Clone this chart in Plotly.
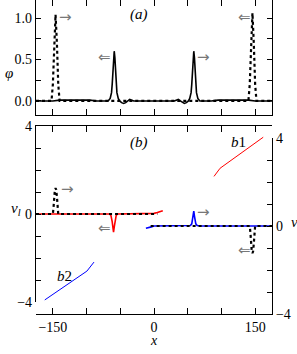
import plotly.graph_objects as go

# ---------------- data ----------------
# panel (a): phi(x) at final time (solid) and initial (dotted)
phi_x = [-175, -150, -140, -120, -100, -95, -85, -72, -68, -65, -63, -62, -61, -60, -59,
         -58, -57, -56, -55, -53, -51, -48, -45, -42, -39, -36, -33, -30, -15, 0,
         15, 30, 33, 36, 39, 42, 45, 48, 51, 53, 55, 56, 57, 58, 59, 60, 61, 62, 63,
         65, 68, 72, 85, 95, 100, 120, 140, 150, 175]
phi_y = [0.0, 0.0, 0.01, 0.01, 0.01, 0.01, 0.0, 0.0, 0.0, 0.03, 0.1, 0.2, 0.36, 0.52, 0.6,
         0.52, 0.36, 0.2, 0.1, 0.03, 0.0, -0.02, -0.03, -0.02, 0.0, 0.02, 0.01, 0.0, 0.0, 0.0,
         0.0, 0.0, 0.01, 0.02, 0.0, -0.02, -0.03, -0.02, 0.0, 0.03, 0.1, 0.2, 0.36, 0.52, 0.6,
         0.52, 0.36, 0.2, 0.1, 0.03, 0.0, 0.0, 0.0, 0.01, 0.01, 0.01, 0.01, 0.0, 0.0]

phi0_x = [-175, -155, -152, -150, -148, -146, -144, -142, -140, -120, -60, 0, 60, 120,
          140, 142, 144, 146, 148, 150, 152, 155, 175]
phi0_y = [0.0, 0.0, 0.0, 0.2, 0.7, 1.04, 0.7, 0.2, 0.0, 0.0, 0.0, 0.0, 0.0, 0.0,
          0.0, 0.2, 0.7, 1.06, 0.7, 0.2, 0.0, 0.0, 0.0]

# panel (b): v_l (red, left axis) and v_r (blue, right axis)
vl_x = [-175, -120, -80, -66, -64, -63, -62, -61, -60, -59, -58, -57, -56, -54, -50,
        -20, -6, 0, 5, 9, 13]
vl_y = [0.0, 0.0, 0.0, 0.0, -0.05, -0.15, -0.35, -0.6, -0.82, -0.6, -0.35, -0.15, -0.05, 0.0, 0.0,
        0.0, 0.0, 0.03, 0.07, 0.11, 0.15]

vl0_x = [-175, -150, -149, -148, -147, -146, -145, -144, -143, -142, -100, -50, 0, 5]
vl0_y = [0.0, 0.0, 0.3, 0.8, 1.1, 1.18, 1.1, 0.8, 0.3, 0.0, 0.0, 0.0, 0.0, 0.0]

vr_x = [-12, -8, -4, 0, 20, 50, 54, 56, 57, 58, 59, 60, 61, 62, 64, 68, 100, 140, 175]
vr_y = [-0.1, -0.08, -0.04, 0.0, 0.0, 0.0, 0.02, 0.1, 0.25, 0.45, 0.68, 0.45, 0.25, 0.1, 0.02,
        0.0, 0.0, 0.0, 0.0]

vr0_x = [-5, 50, 100, 142, 143, 144, 145, 146, 147, 148, 149, 150, 175]
vr0_y = [0.0, 0.0, 0.0, 0.0, -0.3, -0.8, -1.15, -1.23, -1.15, -0.8, -0.3, 0.0, 0.0]

b1_x = [89, 98, 162]
b1_y = [1.71, 2.08, 3.49]
b2_x = [-162, -99.5, -89]
b2_y = [-3.36, -2.05, -1.64]

x_ticks = [-150, -100, -50, 0, 50, 100, 150]
x_ticktext = ["\u2212150", "", "", "0", "", "", "150"]
phi_ticks = [0, 0.25, 0.5, 0.75, 1.0]
phi_ticktext = ["0.0", "", "0.5", "", "1.0"]
v_ticks = [-4, -3, -2, -1, 0, 1, 2, 3, 4]
v_ticktext = ["\u22124", "", "", "", "0", "", "", "", "4"]

# ---------------- figure ----------------
FONT = "Liberation Serif"
GRAY = "#777777"

fig = go.Figure()
fig.add_trace(go.Scatter(x=phi_x, y=phi_y, mode="lines", line=dict(color="black", width=1.6),
                         xaxis="x", yaxis="y"))
fig.add_trace(go.Scatter(x=phi0_x, y=phi0_y, mode="lines", line=dict(color="black", width=2.2, dash="dot"),
                         xaxis="x", yaxis="y"))

fig.add_trace(go.Scatter(x=vl_x, y=vl_y, mode="lines", line=dict(color="#ff0000", width=1.6),
                         xaxis="x2", yaxis="y2"))
fig.add_trace(go.Scatter(x=b1_x, y=b1_y, mode="lines", line=dict(color="#ff0000", width=1.0),
                         xaxis="x2", yaxis="y2"))
fig.add_trace(go.Scatter(x=vl0_x, y=vl0_y, mode="lines", line=dict(color="black", width=2.2, dash="dot"),
                         xaxis="x2", yaxis="y2"))

fig.add_trace(go.Scatter(x=vr_x, y=vr_y, mode="lines", line=dict(color="#0000ff", width=1.6),
                         xaxis="x3", yaxis="y3"))
fig.add_trace(go.Scatter(x=b2_x, y=b2_y, mode="lines", line=dict(color="#0000ff", width=1.0),
                         xaxis="x3", yaxis="y3"))
fig.add_trace(go.Scatter(x=vr0_x, y=vr0_y, mode="lines", line=dict(color="black", width=2.2, dash="dot"),
                         xaxis="x3", yaxis="y3"))
fig.add_trace(go.Scatter(x=[None], y=[None], xaxis="x4", yaxis="y", showlegend=False))

tickfont = dict(family=FONT, size=14, color="black")
xrange = [-175, 175]
common_x = dict(range=xrange, tickvals=x_ticks, showgrid=False, zeroline=False, automargin=False,
                ticks="inside", ticklen=6, tickcolor="black", tickwidth=1.2,
                linecolor="black", linewidth=1.3, tickfont=tickfont)
common_y = dict(showgrid=False, zeroline=False, automargin=False, ticks="inside", ticklen=5,
                tickcolor="black", tickwidth=1.2, linecolor="black", linewidth=1.3, tickfont=tickfont)

fig.update_layout(
    width=297, height=354,
    margin=dict(l=36, r=25, t=0, b=40, autoexpand=False),
    paper_bgcolor="white", plot_bgcolor="rgba(0,0,0,0)",
    showlegend=False,
    font=dict(family=FONT),
    xaxis=dict(**common_x, domain=[0, 1], anchor="y", showline=True, showticklabels=False),
    xaxis4=dict(**common_x, overlaying="x", side="top", anchor="y", showline=False,
                showticklabels=False),
    yaxis=dict(**common_y, domain=[0.6338, 1.0], range=[-0.169, 1.217], anchor="x",
               tickvals=phi_ticks, ticktext=phi_ticktext, showline=True, mirror="ticks"),
    xaxis2=dict(**common_x, domain=[0, 1], anchor="y2", side="top", showline=True,
                showticklabels=False),
    yaxis2=dict(**common_y, domain=[0.0382, 0.5987], range=[-4, 4], anchor="x2",
                tickvals=v_ticks, ticktext=v_ticktext, showline=True),
    xaxis3=dict(**common_x, domain=[0, 1], anchor="y3", side="bottom", showline=True,
                showticklabels=True, ticktext=x_ticktext),
    yaxis3=dict(**common_y, domain=[0.0, 0.5605], range=[-4, 4], anchor="x3", side="right",
                tickvals=v_ticks, ticktext=v_ticktext, showline=True),
)

ann_font = dict(family=FONT, size=15, color="black")
arrow_font = dict(family="DejaVu Sans", size=15, color=GRAY)
anns = [
    dict(text="<i>(a)</i>", x=-22, y=1.04, xref="x", yref="y", font=ann_font),
    dict(text="<i>(b)</i>", x=-22, y=3.26, xref="x2", yref="y2", font=ann_font),
    dict(text="<i>b</i>1", x=126, y=3.26, xref="x2", yref="y2", font=ann_font),
    dict(text="<i>b</i>2", x=-132, y=-2.27, xref="x3", yref="y3", font=ann_font),
    dict(text="\u2192", x=-131, y=1.01, xref="x", yref="y", font=arrow_font),
    dict(text="\u21d0", x=-74, y=0.53, xref="x", yref="y", font=arrow_font),
    dict(text="\u2192", x=73, y=0.53, xref="x", yref="y", font=arrow_font),
    dict(text="\u21d0", x=134, y=1.01, xref="x", yref="y", font=arrow_font),
    dict(text="\u2192", x=-129, y=1.12, xref="x2", yref="y2", font=arrow_font),
    dict(text="\u21d0", x=-73, y=-0.62, xref="x2", yref="y2", font=arrow_font),
    dict(text="\u2192", x=73, y=0.64, xref="x3", yref="y3", font=arrow_font),
    dict(text="\u21d0", x=134, y=-1.09, xref="x3", yref="y3", font=arrow_font),
    dict(text="<i>\u03c6</i>", x=-0.14, y=0.80, xref="paper", yref="paper", font=ann_font),
    dict(text="<i>v<sub>l</sub></i>", x=-0.115, y=0.30, xref="paper", yref="paper", font=ann_font),
    dict(text="<i>v<sub>r</sub></i>", x=1.07, y=0.255, xref="paper", yref="paper", font=ann_font,
         xanchor="left"),
    dict(text="<i>x</i>", x=0.5, y=-0.114, xref="paper", yref="paper",
         font=dict(family=FONT, size=14, color="black")),
]
for a in anns:
    a.setdefault("showarrow", False)
fig.update_layout(annotations=anns)

fig.write_html("out.html", config={"displayModeBar": False},
               post_script="document.body.style.margin='0px';document.body.style.padding='0px';")
